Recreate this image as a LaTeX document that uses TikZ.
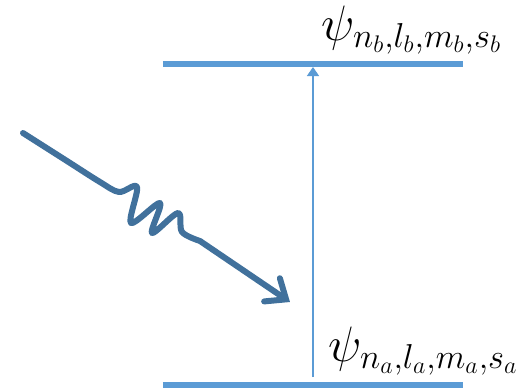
\documentclass[tikz,border=0pt]{standalone}
\usepackage{amsmath}
\usepackage{tikz}
\usetikzlibrary{positioning, arrows.meta}

\definecolor{levelblue}{RGB}{91,155,213}
\definecolor{photonblue}{RGB}{65,113,156}

\begin{document}
\begin{tikzpicture}[x=0.5pt, y=-0.5pt]
      % Define styles for levels, arrows and labels
      \tikzset{
        levelline/.style={draw=levelblue, line width=3pt},
        transition/.style={draw=levelblue, line width=0.7pt, -{Triangle[length=4.5pt, width=6pt]}},
        photon/.style={draw=photonblue, line width=3pt, line cap=round, line join=round,
          -{Straight Barb[length=8.5pt, width=14pt, line cap=round]}},
        statelabel/.style={font=\fontsize{23}{27}\selectfont, inner sep=0pt, anchor=base west}
      }
      \useasboundingbox (0,0) rectangle (527,388);

      % The two energy levels
      \coordinate (levelbl) at (163,64);
      \coordinate (levelbr) at (463,64);
      \coordinate (levelal) at (163,385);
      \coordinate (levelar) at (463,385);
      \draw[levelline] (levelbl) -- (levelbr);
      \draw[levelline] (levelal) -- (levelar);

      % Labels of the states
      \node[statelabel] (labelb) at (321,40) {$\psi_{n_b,l_b,m_b,s_b}$};
      \node[statelabel] (labela) at (328,361) {$\psi_{n_a,l_a,m_a,s_a}$};

      % Transition from a to b
      \coordinate (transa) at (313,377);
      \coordinate (transb) at (313,67);
      \draw[transition] (transa) -- (transb);

      % Incoming photon
      \coordinate (photonstart) at (23,133);
      \coordinate (photonend) at (290,302);
      \draw[photon] plot[smooth, tension=0.55] coordinates {(23,133) (67,161) (100,182) (119,192)
        (137,187) (131,223) (160,203) (152,233) (178,213) (182,232) (200,241)}
        -- (photonend);
    \end{tikzpicture}
\end{document}
